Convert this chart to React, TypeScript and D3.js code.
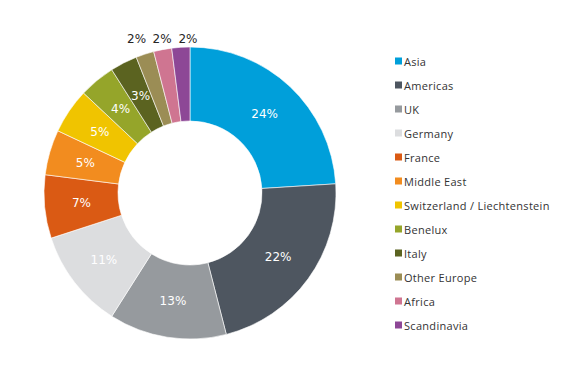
import React from "react";
import * as d3 from "d3";

const categories = ["Asia","Americas","UK","Germany","France","Middle East","Switzerland / Liechtenstein","Benelux","Italy","Other Europe","Africa","Scandinavia"];
const values = [24,22,13,11,7,5,5,4,3,2,2,2];
const colors = ["#009FDA","#4E5660","#969A9E","#DCDDDF","#DA5A14","#F28C1F","#F0C400","#95A52A","#5B6320","#9B8D55","#CF7591","#8D4796"];
const outsideLabel = [false,false,false,false,false,false,false,false,false,true,true,true];
const outsideNudge = [0,0,0,0,0,0,0,0,0,-4,2,8];

export default function App() {
  const width = 577, height = 371;
  const cx = 190, cy = 193, outerR = 146, innerR = 72;
  const pie = d3.pie<number>().sort(null).value(d => d);
  const arcs = pie(values);
  const arc = d3.arc<d3.PieArcDatum<number>>().innerRadius(innerR).outerRadius(outerR);
  const labelR = (innerR + outerR) / 2;
  const legendY = d3.scalePoint<string>().domain(categories).range([61, 325]);

  return (
    <svg width={width} height={height} style={{ position: "absolute", left: 0, top: 0, background: "#fff" }}>
      <g transform={`translate(${cx},${cy})`}>
        {arcs.map((a, i) => (
          <path key={i} d={arc(a) || ""} fill={colors[i]} stroke="#fff" strokeWidth={0.6} />
        ))}
        {arcs.map((a, i) => {
          const mid = (a.startAngle + a.endAngle) / 2;
          if (outsideLabel[i]) {
            const x = 160 * Math.sin(mid) + outsideNudge[i];
            const y = -(outerR + 8.5);
            return (
              <text key={i} x={x} y={y} textAnchor="middle" dominantBaseline="central"
                fontFamily="DejaVu Sans, Verdana, sans-serif" fontSize={12} fill="#262626">
                {values[i]}%
              </text>
            );
          }
          const x = labelR * Math.sin(mid);
          const y = -labelR * Math.cos(mid);
          return (
            <text key={i} x={x} y={y} textAnchor="middle" dominantBaseline="central"
              fontFamily="DejaVu Sans, Verdana, sans-serif" fontSize={12} fill="#fff">
              {values[i]}%
            </text>
          );
        })}
      </g>
      <g>
        {categories.map((c, i) => (
          <g key={c} transform={`translate(395,${legendY(c)})`}>
            <rect x={0} y={-3.5} width={7} height={7} fill={colors[i]} />
            <text x={9} y={0} dominantBaseline="central" fontFamily="Open Sans, sans-serif" fontSize={11} letterSpacing={0.3} fill="#333">
              {c}
            </text>
          </g>
        ))}
      </g>
    </svg>
  );
}
